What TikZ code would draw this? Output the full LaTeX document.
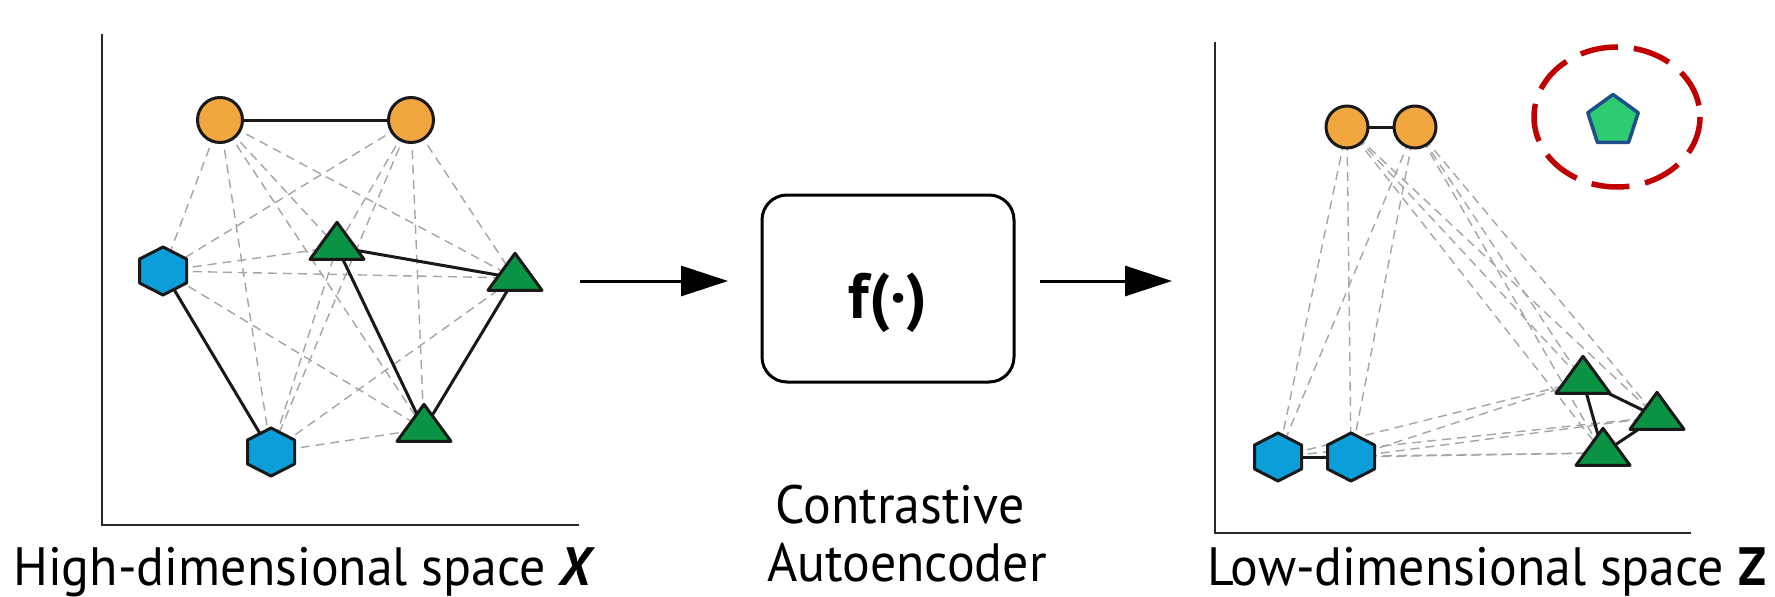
\documentclass[tikz,border=0pt]{standalone}
\usepackage{fontspec}
\setmainfont{PT Sans}
\newfontfamily\capfont[FakeStretch=0.96]{PT Sans}
\usetikzlibrary{arrows.meta,calc}

\definecolor{dotorange}{RGB}{242,166,64}
\definecolor{dotblue}{RGB}{11,158,217}
\definecolor{dotgreen}{RGB}{10,147,68}
\definecolor{newgreen}{RGB}{46,204,113}
\definecolor{newnavy}{RGB}{31,78,140}
\definecolor{alertred}{RGB}{192,0,0}
\definecolor{pairgray}{RGB}{165,165,165}
\definecolor{axisgray}{RGB}{40,40,40}

\tikzset{
  shapeline/.style={draw=black!90, line width=3, line join=round},
  simdash/.style={draw=pairgray, line width=1.4, dash pattern=on 9 off 6},
  tie/.style={draw=black!90, line width=3},
  axisline/.style={draw=axisgray, line width=2.5, line cap=rect},
  flowarrow/.style={draw=black, line width=3, -{Triangle[length=47,width=30]}},
  caption/.style={font=\capfont\fontsize{54}{60}\selectfont, inner sep=0},
  hexmark/.pic={\path[shapeline, fill=dotblue] (0,-24)--(23.5,-12)--(23.5,12)--(0,24)--(-23.5,12)--(-23.5,-12)--cycle;},
  trimark/.pic={\path[shapeline, fill=dotgreen] (0,-24.7)--(27,12.3)--(-27,12.3)--cycle;},
}

\begin{document}
\begin{tikzpicture}[x=1pt,y=-1pt]
\useasboundingbox[fill=white] (0,0) rectangle (1775,597);

% ---------------- high-dimensional space ----------------
\coordinate (lo1) at (220,120);
\coordinate (lo2) at (411,120);
\coordinate (lh1) at (163,271);
\coordinate (lh2) at (271,452);
\coordinate (lt1) at (337,247);
\coordinate (lt2) at (515,278);
\coordinate (lt3) at (424,429);
\coordinate (lyt) at (102,35);
\coordinate (lor) at (102,525);
\coordinate (lxr) at (578,525);

\draw[axisline] (lyt) -- (lor) -- (lxr);

\foreach \a/\b in {lo1/lh1,lo1/lh2,lo1/lt1,lo1/lt2,lo1/lt3,
                   lo2/lh1,lo2/lh2,lo2/lt1,lo2/lt2,lo2/lt3,
                   lh1/lt1,lh1/lt2,lh1/lt3,
                   lh2/lt1,lh2/lt2,lh2/lt3}
  \draw[simdash] (\a) -- (\b);

\foreach \a/\b in {lo1/lo2,lh1/lh2,lt1/lt2,lt1/lt3,lt2/lt3}
  \draw[tie] (\a) -- (\b);

\foreach \c in {lo1,lo2} \draw[shapeline, fill=dotorange] (\c) circle[radius=22.5];
\foreach \c in {lh1,lh2} \pic at (\c) {hexmark};
\foreach \c in {lt1,lt2,lt3} \pic at (\c) {trimark};

\node[caption, anchor=base west] (xlabel) at (13,585)
  {High-dimensional space \textbf{\textit{X}}};

% ---------------- encoder ----------------
\coordinate (a1s) at (580,281);
\coordinate (a1e) at (728,281);
\coordinate (a2s) at (1040,281);
\coordinate (a2e) at (1172,281);
\node[draw=black, line width=3, rounded corners=25, minimum width=252,
      minimum height=187, inner sep=0] (fbox) at (888,288.5) {};
\node[font=\fontsize{64}{70}\selectfont\bfseries, anchor=base, inner sep=0]
  (ftext) at (888,318) {f(·)};
\draw[flowarrow] (a1s) -- (a1e);
\draw[flowarrow] (a2s) -- (a2e);

\node[caption, anchor=base] (cae1) at (900,523) {Contrastive};
\node[caption, anchor=base] (cae2) at (907,581) {Autoencoder};

% ---------------- low-dimensional space ----------------
\coordinate (ro1) at (1347,127);
\coordinate (ro2) at (1415,127);
\coordinate (rh1) at (1278,457);
\coordinate (rh2) at (1351,457);
\coordinate (rt1) at (1583,381);
\coordinate (rt2) at (1657,417);
\coordinate (rt3) at (1603,453);
\coordinate (ryt) at (1215,43);
\coordinate (ror) at (1215,533);
\coordinate (rxr) at (1690,533);

\draw[axisline] (ryt) -- (ror) -- (rxr);

\foreach \a/\b in {ro1/rh1,ro1/rh2,ro1/rt1,ro1/rt2,ro1/rt3,
                   ro2/rh1,ro2/rh2,ro2/rt1,ro2/rt2,ro2/rt3,
                   rh1/rt1,rh1/rt2,rh1/rt3,
                   rh2/rt1,rh2/rt2,rh2/rt3}
  \draw[simdash] (\a) -- (\b);

\foreach \a/\b in {ro1/ro2,rh1/rh2,rt1/rt2,rt1/rt3,rt2/rt3}
  \draw[tie] (\a) -- (\b);

\foreach \c in {ro1,ro2} \draw[shapeline, fill=dotorange] (\c) circle[radius=21];
\foreach \c in {rh1,rh2} \pic at (\c) {hexmark};
\foreach \c in {rt1,rt2,rt3} \pic at (\c) {trimark};

% new sample, set apart from every cluster
\coordinate (pent) at (1613,121);
\coordinate (ringc) at (1617,117);
\draw[draw=newnavy, line width=3.5, line join=round, fill=newgreen]
  ($(pent)+(90:-26.5)$) -- ($(pent)+(162:-26.5)$) -- ($(pent)+(234:-26.5)$)
  -- ($(pent)+(306:-26.5)$) -- ($(pent)+(18:-26.5)$) -- cycle;
\draw[alertred, line width=5.5, dash pattern=on 38 off 16]
  (ringc) ellipse[x radius=83, y radius=70];

\node[caption, anchor=base west] (zlabel) at (1207,585)
  {Low-dimensional space \textbf{Z}};
\end{tikzpicture}
\end{document}
